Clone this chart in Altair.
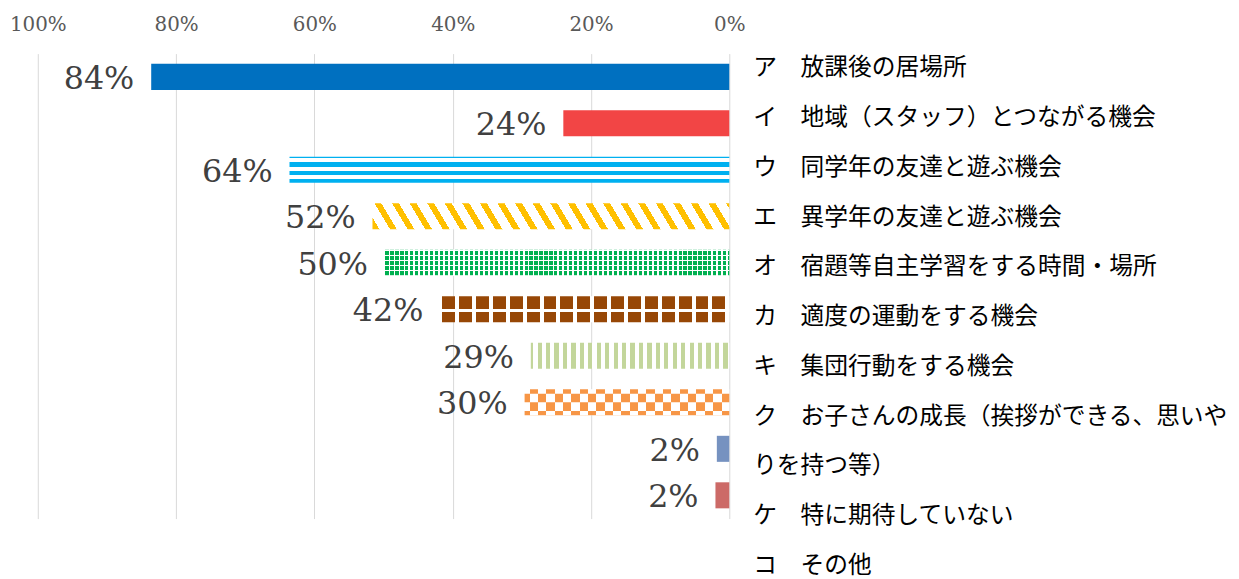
import math
import altair as alt
import pandas as pd

# ---------------- data ----------------
codes = ["ア", "イ", "ウ", "エ", "オ", "カ", "キ", "ク", "ケ", "コ"]
values = [0.836, 0.240, 0.636, 0.516, 0.498, 0.418, 0.287, 0.296, 0.018, 0.020]
label_lines = [
    "ア　放課後の居場所",
    "イ　地域（スタッフ）とつながる機会",
    "ウ　同学年の友達と遊ぶ機会",
    "エ　異学年の友達と遊ぶ機会",
    "オ　宿題等自主学習をする時間・場所",
    "カ　適度の運動をする機会",
    "キ　集団行動をする機会",
    "ク　お子さんの成長（挨拶ができる、思いや",
    "りを持つ等）",
    "ケ　特に期待していない",
    "コ　その他",
]
line_index = list(range(len(label_lines)))
tick_values = [0, 0.2, 0.4, 0.6, 0.8, 1.0]

df = pd.DataFrame({"code": codes, "value": values})
lines_df = pd.DataFrame({"line": line_index, "label": label_lines})

# ---------------- style ----------------
PLOT_W, PLOT_H = 696, 468
PAD_INNER = 0.44
STEP = PLOT_H / len(codes)
BAR_H = STEP * (1 - PAD_INNER)
CLEAR = "rgba(255,255,255,0)"
WHITE = "#ffffff"


def stripe_stops(color, bg, length, period, on, start=0.0):
    pos = start
    while pos > 0:
        pos -= period
    stops = []
    while pos < length:
        for a, b, c in ((pos, pos + on, color), (pos + on, pos + period, bg)):
            a2, b2 = max(a, 0.0), min(b, length)
            if b2 > a2:
                stops.append({"offset": round(min(max(a2 / length, 0), 1), 5), "color": c})
                stops.append({"offset": round(min(max(b2 / length, 0), 1), 5), "color": c})
        pos += period
    return stops


def grad(stops, x1=0, y1=0, x2=1, y2=0):
    return {"gradient": "linear", "x1": x1, "y1": y1, "x2": x2, "y2": y2, "stops": stops}


def vstripes(color, bg, W, period, on, start=0.0):
    return grad(stripe_stops(color, bg, W, period, on, start), 0, 0, 1, 0)


def hstripes(color, bg, H, period, on, start=0.0):
    return grad(stripe_stops(color, bg, H, period, on, start), 0, 0, 0, 1)


def diag(color, bg, W, H, m, period, on, start=0.0):
    S = W + m * H
    k = S / (W * W + m * m * H * H)
    return grad(stripe_stops(color, bg, S, period, on, start), 0, 1, k * W, 1 - k * m * H)


def width_of(code):
    return values[codes.index(code)] * PLOT_W


ROW = BAR_H / 3.0
fills = {
    "ア": [dict(fill="#0070C0")],
    "イ": [dict(fill="#F24545")],
    "ウ": [dict(fill=hstripes("#00B0F0", WHITE, BAR_H, 8.5, 4.3, -3.0))],
    "エ": [dict(fill=diag("#FFC000", WHITE, width_of("エ"), BAR_H, 0.6, 17.7, 7.0, 0.0))],
    "オ": [
        dict(fill=vstripes("#00B050", WHITE, width_of("オ"), 5.0, 3.2, 0.5)),
        dict(fill=hstripes(WHITE, CLEAR, BAR_H, 5.0, 1.6, 0.0)),
    ],
    "カ": [
        dict(fill=vstripes("#974706", WHITE, width_of("カ"), 17.0, 13.0, 2.0)),
        dict(fill=hstripes(WHITE, CLEAR, BAR_H, BAR_H, 3.0, BAR_H * 0.5)),
    ],
    "キ": [dict(fill=vstripes("#C3D69B", WHITE, width_of("キ"), 8.5, 4.2, 6.8))],
    "ク": [
        dict(fill=vstripes("#F79646", WHITE, width_of("ク"), 16.8, 8.4, 5.0)),
        dict(fill=vstripes("#F79646", WHITE, width_of("ク"), 16.8, 8.4, 5.0 - 8.4),
             height=ROW * 1.0, yOffset=-ROW * 0.5),
        dict(fill=vstripes("#F79646", WHITE, width_of("ク"), 16.8, 8.4, 5.0 - 8.4),
             height=ROW * 0.5, yOffset=ROW * 1.25),
    ],
    "ケ": [dict(fill="#7692C0")],
    "コ": [dict(fill="#CC6A67")],
}

x_enc = alt.X(
    "value:Q",
    scale=alt.Scale(domain=[0, 1], reverse=True, nice=False, zero=True),
    axis=alt.Axis(
        orient="top", values=tick_values, format=".0%", title=None,
        grid=True, gridColor="#D9D9D9", gridWidth=1,
        domain=False, ticks=False, labelPadding=19, labelFlush=False,
        labelFont="DejaVu Serif", labelFontSize=20, labelColor="#595959",
    ),
)
y_enc = alt.Y(
    "code:N",
    sort=codes,
    scale=alt.Scale(domain=codes, paddingInner=PAD_INNER, paddingOuter=PAD_INNER / 2),
    axis=None,
)

base = alt.Chart(df)
bar_layers = []
for c in codes:
    for props in fills[c]:
        bar_layers.append(
            base.transform_filter(alt.datum.code == c)
            .mark_bar(**props)
            .encode(x=x_enc, y=y_enc)
        )

value_text = base.mark_text(
    align="right", baseline="middle", dx=-17, dy=2,
    font="DejaVu Serif", fontSize=32, color="#404040",
).encode(x=x_enc, y=y_enc, text=alt.Text("value:Q", format=".0%"))

bars = alt.layer(*bar_layers, value_text)

labels = alt.Chart(lines_df).mark_text(
    align="left", baseline="middle",
    font="Noto Sans CJK JP", fontSize=23.9, color="#000000",
).encode(
    x=alt.value(PLOT_W + 24),
    y=alt.Y("line:Q", scale=alt.Scale(domain=[-0.3, 9.05], reverse=True, nice=False, zero=False), axis=None),
    text="label:N",
)

chart = (
    alt.layer(bars, labels)
    .resolve_scale(y="independent")
    .properties(
        width=PLOT_W, height=PLOT_H, autosize="none",
        padding={"left": 30, "top": 44, "right": 505, "bottom": 72},
    )
    .configure_view(stroke=None)
)

chart.save("out.html", embed_options={"renderer": "svg", "actions": False})
